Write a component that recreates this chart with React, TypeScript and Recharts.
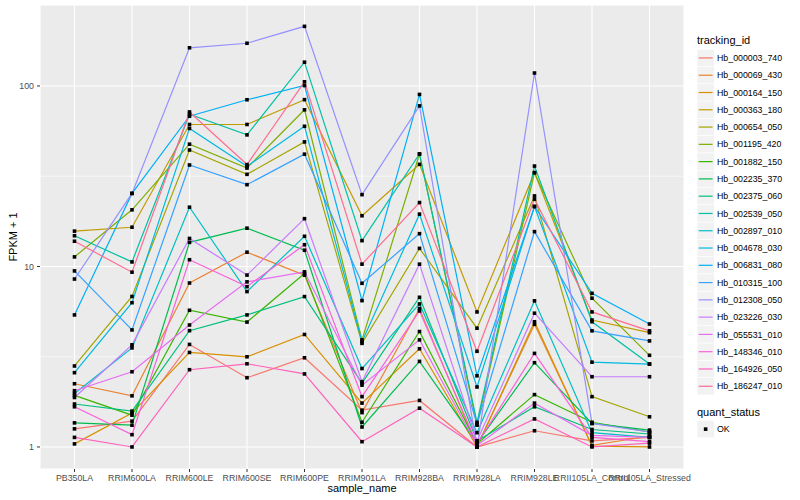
import React from 'react';
import { LineChart, Line, XAxis, YAxis, CartesianGrid, Legend } from 'recharts';

const FONT = '"Liberation Sans", Arial, Helvetica, sans-serif';

const CATEGORIES = [
  'PB350LA', 'RRIM600LA', 'RRIM600LE', 'RRIM600SE', 'RRIM600PE', 'RRIM901LA',
  'RRIM928BA', 'RRIM928LA', 'RRIM928LE', 'RRII105LA_Control', 'RRII105LA_Stressed',
];

const SERIES_NAMES = [
  'Hb_000003_740', 'Hb_000069_430', 'Hb_000164_150', 'Hb_000363_180', 'Hb_000654_050',
  'Hb_001195_420', 'Hb_001882_150', 'Hb_002235_370', 'Hb_002375_060', 'Hb_002539_050',
  'Hb_002897_010', 'Hb_004678_030', 'Hb_006831_080', 'Hb_010315_100', 'Hb_012308_050',
  'Hb_023226_030', 'Hb_055531_010', 'Hb_148346_010', 'Hb_164926_050', 'Hb_186247_010',
];

const SERIES_COLORS = [
  '#F8766D', '#EA8331', '#D89000', '#C09B00', '#A3A500',
  '#7CAE00', '#39B600', '#00BB4E', '#00BF7D', '#00C1A3',
  '#00BFC4', '#00BAE0', '#00B0F6', '#35A2FF', '#9590FF',
  '#C77CFF', '#E76BF3', '#FA62DB', '#FF62BC', '#FF6C91',
];

const hb000003_740 = [1.26, 1.39, 3.7, 2.42, 3.12, 1.6, 1.81, 1.0, 1.23, 1.08, 1.13];
const hb000069_430 = [2.24, 1.92, 8.1, 12.0, 8.95, 1.55, 5.85, 1.01, 4.78, 1.02, 1.15];
const hb000164_150 = [1.04, 1.54, 3.34, 3.16, 4.2, 1.75, 3.5, 1.0, 4.94, 1.01, 1.0];
const hb000363_180 = [15.7, 16.5, 61.2, 61.2, 84, 19.1, 36.8, 5.6, 33.1, 5.05, 4.3];
const hb000654_050 = [2.81, 6.82, 44.2, 32.4, 49.0, 3.75, 12.6, 4.55, 24.6, 1.9, 1.47];
const hb001195_420 = [11.3, 20.6, 47.6, 35.1, 73.8, 3.92, 42.0, 1.32, 33.1, 6.67, 3.22];
const hb001882_150 = [1.93, 1.5, 5.72, 4.92, 9.15, 1.37, 4.36, 1.04, 1.95, 1.37, 1.21];
const hb002235_370 = [1.36, 1.32, 13.6, 16.3, 12.3, 1.29, 2.98, 1.05, 2.93, 1.35, 1.24];
const hb002375_060 = [1.73, 1.58, 4.41, 5.39, 6.81, 2.26, 6.75, 1.08, 1.67, 1.25, 1.18];
const hb002539_050 = [14.8, 10.6, 69.8, 53.6, 135.5, 13.9, 42.0, 1.37, 36.0, 4.94, 2.88];
const hb002897_010 = [1.98, 3.54, 21.3, 7.26, 14.7, 2.72, 6.2, 1.2, 6.45, 1.2, 1.13];
const hb004678_030 = [2.58, 6.3, 58.2, 35.9, 59.8, 3.83, 19.5, 2.15, 21.5, 2.95, 2.88];
const hb006831_080 = [5.39, 25.4, 68.0, 83.9, 100.6, 6.47, 89.8, 2.48, 21.5, 7.1, 4.8];
const hb010315_100 = [9.45, 4.45, 36.5, 28.4, 41.9, 8.07, 15.2, 1.34, 15.6, 4.4, 3.87];
const hb012308_050 = [8.52, 25.4, 162.8, 172.5, 214, 25.0, 77.6, 1.0, 118, 1.35, 1.21];
const hb023226_030 = [1.88, 3.68, 14.3, 8.96, 18.4, 2.3, 10.3, 1.08, 5.51, 2.45, 2.45];
const hb055531_010 = [2.05, 2.61, 4.74, 8.22, 9.34, 2.2, 3.92, 1.02, 1.75, 1.16, 1.13];
const hb148346_010 = [1.67, 1.17, 10.9, 7.73, 13.2, 1.9, 5.67, 1.04, 3.3, 1.13, 1.07];
const hb164926_050 = [1.13, 1.0, 2.68, 2.89, 2.54, 1.07, 1.64, 1.0, 1.43, 1.0, 1.05];
const hb186247_010 = [13.8, 9.3, 71.8, 36.7, 105.5, 10.3, 22.6, 3.39, 23.6, 5.6, 4.4];

const SERIES_VALUES = [
  hb000003_740, hb000069_430, hb000164_150, hb000363_180, hb000654_050,
  hb001195_420, hb001882_150, hb002235_370, hb002375_060, hb002539_050,
  hb002897_010, hb004678_030, hb006831_080, hb010315_100, hb012308_050,
  hb023226_030, hb055531_010, hb148346_010, hb164926_050, hb186247_010,
];

const Y_TICKS = [1, 10, 100];
const Y_MINOR = [3.1623, 31.623];
const Y_DOMAIN = [0.755, 281];

const data = CATEGORIES.map((c, i) => {
  const row: Record<string, string | number> = { sample_name: c };
  SERIES_NAMES.forEach((n, j) => {
    row[n] = SERIES_VALUES[j][i];
  });
  return row;
});

const KEY = 17.28;

const LegendContent = () => (
  <svg width={116} height={445} style={{ display: 'block', fontFamily: FONT, overflow: 'visible' }}>
    <text x={13} y={43.5} fontSize={11} fill="#000000">tracking_id</text>
    {SERIES_NAMES.map((n, i) => {
      const top = 49.3 + i * KEY;
      return (
        <g key={n}>
          <rect x={13} y={top} width={KEY} height={KEY} fill="#F2F2F2" stroke="#FFFFFF" strokeWidth={0.6} />
          <line x1={14.7} x2={28.6} y1={top + KEY / 2} y2={top + KEY / 2} stroke={SERIES_COLORS[i]} strokeWidth={1.2} />
          <text x={33} y={top + KEY / 2 + 3.1} fontSize={8.8} fill="#000000">{n}</text>
        </g>
      );
    })}
    <text x={13} y={416} fontSize={11} fill="#000000">quant_status</text>
    <rect x={13} y={420.5} width={KEY} height={KEY} fill="#F2F2F2" stroke="#FFFFFF" strokeWidth={0.6} />
    <rect x={13 + KEY / 2 - 1.8} y={420.5 + KEY / 2 - 1.8} width={3.6} height={3.6} fill="#000000" />
    <text x={33} y={420.5 + KEY / 2 + 3.1} fontSize={8.8} fill="#000000">OK</text>
  </svg>
);

const makeDot = (name: string) => (props: any) => {
  const { cx, cy, index } = props;
  if (cx == null || cy == null) return <g key={`${name}-${index}`} />;
  return <rect key={`${name}-${index}`} x={cx - 1.8} y={cy - 1.8} width={3.6} height={3.6} fill="#000000" />;
};

export default function App() {
  return (
    <div style={{ position: 'absolute', left: 0, top: 0, width: 800, height: 500, background: '#FFFFFF', fontFamily: FONT }}>
      <LineChart width={800} height={500} data={data} margin={{ top: 5, right: 0, bottom: 0, left: 0 }}>
        <CartesianGrid fill="#EBEBEB" fillOpacity={1} stroke="#FFFFFF" strokeWidth={1.1} />
        <CartesianGrid vertical={false} horizontalValues={Y_MINOR} stroke="#FFFFFF" strokeWidth={0.55} />
        <XAxis
          dataKey="sample_name"
          interval={0}
          axisLine={false}
          tickLine={{ stroke: '#333333' }}
          tickSize={3}
          tickMargin={2.5}
          height={31}
          padding={{ left: 34.5, right: 34.5 }}
          tick={{ fontSize: 8.8, fill: '#4D4D4D', fontFamily: FONT }}
          label={{ value: 'sample_name', position: 'insideBottom', offset: 8.5, fill: '#000000', fontSize: 11, fontFamily: FONT }}
        />
        <YAxis
          type="number"
          scale="log"
          domain={Y_DOMAIN}
          allowDataOverflow
          ticks={Y_TICKS}
          tickFormatter={(v: number) => String(v)}
          width={40}
          axisLine={false}
          tickLine={{ stroke: '#333333' }}
          tickSize={3}
          tickMargin={3}
          tick={{ fontSize: 8.8, fill: '#4D4D4D', fontFamily: FONT }}
          label={{ value: 'FPKM + 1', angle: -90, position: 'insideLeft', offset: 13, fill: '#000000', fontSize: 11, fontFamily: FONT, style: { textAnchor: 'middle' } }}
        />
        <Legend
          layout="vertical"
          align="right"
          verticalAlign="top"
          width={116}
          wrapperStyle={{ top: 0 }}
          content={<LegendContent />}
        />
        {SERIES_NAMES.map((n, i) => (
          <Line
            key={`line-${n}`}
            type="linear"
            dataKey={n}
            stroke={SERIES_COLORS[i]}
            strokeWidth={1.2}
            dot={false}
            activeDot={false}
            isAnimationActive={false}
          />
        ))}
        {SERIES_NAMES.map((n) => (
          <Line
            key={`pts-${n}`}
            type="linear"
            dataKey={n}
            stroke="none"
            legendType="none"
            dot={makeDot(n)}
            activeDot={false}
            isAnimationActive={false}
          />
        ))}
      </LineChart>
    </div>
  );
}
